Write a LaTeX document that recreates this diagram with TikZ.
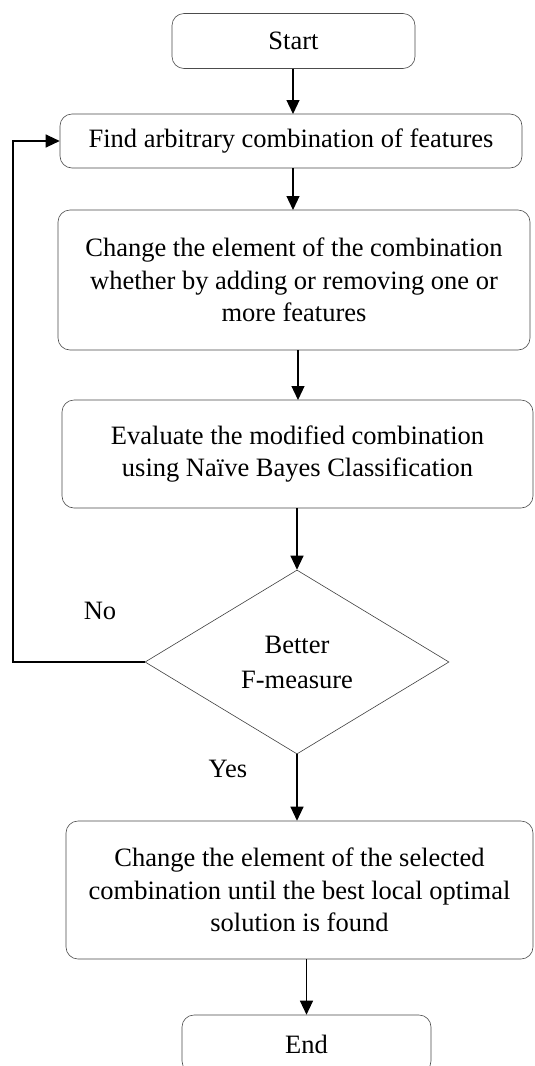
\documentclass[tikz,border=0pt]{standalone}
\usepackage{fontspec}
\setmainfont{Liberation Serif}
\usetikzlibrary{shapes.geometric,arrows.meta}
\begin{document}
\begin{tikzpicture}[x=1pt,y=-1pt,
  box/.style={draw=black!70,line width=0.6pt,rounded corners=12pt,inner sep=0pt,align=center,font=\fontsize{26.5}{32.5}\selectfont},
  dec/.style={draw=black!75,line width=0.6pt,diamond,inner sep=0pt,align=center,font=\fontsize{26.5}{35}\selectfont},
  lbl/.style={font=\fontsize{26.5}{32}\selectfont},
  arr/.style={line width=1.2pt,-{Triangle[length=14pt,width=13pt]}},
  ln/.style={line width=1.2pt}]
\clip (0,0) rectangle (535,1066);
\fill[white] (0,0) rectangle (535,1066);
\node[box,minimum width=243pt,minimum height=55pt] (start) at (293.5,41) {Start};
\node[box,minimum width=462pt,minimum height=54pt] (find) at (291,141) {Find arbitrary combination of features};
\node[box,minimum width=472pt,minimum height=140pt] (change) at (294,280) {Change the element of the combination\\whether by adding or removing one or\\more features};
\node[box,minimum width=471pt,minimum height=108pt] (eval) at (297.5,454) {Evaluate the modified combination\\using Na\"ive Bayes Classification};
\node[dec,minimum width=304pt,minimum height=184pt] (dia) at (297,662) {Better\\F-measure};
\node[box,minimum width=467pt,minimum height=138pt] (final) at (299.5,890) {Change the element of the selected\\combination until the best local optimal\\solution is found};
\node[box,minimum width=249pt,minimum height=58pt] (end) at (306.5,1044) {End};
\node[lbl] (no) at (100,611) {No};
\node[lbl] (yes) at (228,769) {Yes};
\coordinate (lx) at (13,0);
\draw[arr] (293,68.5) -- (293,114);
\draw[arr] (find.south -| 293,0) -- (293,210);
\draw[arr] (change.south -| 298,0) -- (298,400);
\draw[arr] (eval.south -| dia.north) -- (dia.north);
\draw[arr] (dia.west) -- (dia.west -| lx) |- (find.west);
\draw[arr] (dia.south) -- (dia.south |- final.north);
\draw[arr] (final.south -| end.north) -- (end.north);
\end{tikzpicture}
\end{document}
